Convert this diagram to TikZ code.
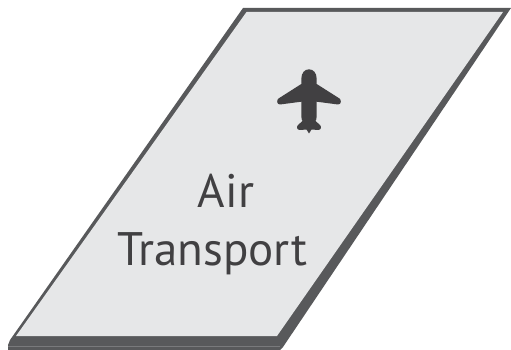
\documentclass[tikz,border=0pt]{standalone}
\usepackage{fontspec}
\setmainfont{PT Sans}
\usetikzlibrary{positioning}

\definecolor{slabfill}{HTML}{E6E7E8}
\definecolor{slabedge}{HTML}{58595B}
\definecolor{slabtext}{HTML}{414042}

\begin{document}
\begin{tikzpicture}[
  x=1pt,y=-1pt,
  slab/.style={fill=slabfill,draw=none},
  edge/.style={fill=slabedge,draw=none},
  lbl/.style={font=\fontsize{47}{56}\selectfont,text=slabtext,inner sep=0pt,anchor=base},
]
  \useasboundingbox (0,0) rectangle (511,350);

  % outer faces
  \fill[edge] (243,8) -- (511,8) -- (283,347) -- (280,350) -- (8,350) -- (8,345) -- (10,340) -- cycle;
  % top face
  \fill[slab] (246.5,12) -- (503,12) -- (277,336) -- (16,336) -- cycle;
  \fill[slabedge!80!white] (8,345.5) rectangle (280,347);

  \node[lbl] (air) at (226,207) {Air};
  \node[lbl] (transport) at (212,265) {Transport};

  % plane
  \fill[slabtext] (309,69.3) .. controls (313.5,69.3) and (316.7,73) .. (316.7,79)
    -- (316.7,84) -- (339.5,98.5) .. controls (341.5,100) and (341.5,104.5) .. (338,104.5)
    -- (316.7,101.7) -- (316.7,116) .. controls (316.7,119) and (316,120) .. (315.5,121)
    -- (320,125) .. controls (322,127) and (321,130) .. (318,130)
    -- (311.5,129.5) -- (309,133.5) -- (306.5,129.5) -- (300,130)
    .. controls (297,130) and (296,127) .. (298,125) -- (302.5,121)
    .. controls (302,120) and (301.3,119) .. (301.3,116) -- (301.3,101.7)
    -- (280,104.5) .. controls (276.5,104.5) and (276.5,100) .. (278.5,98.5)
    -- (301.3,84) -- (301.3,79) .. controls (301.3,73) and (304.5,69.3) .. (309,69.3) -- cycle;
\end{tikzpicture}
\end{document}
